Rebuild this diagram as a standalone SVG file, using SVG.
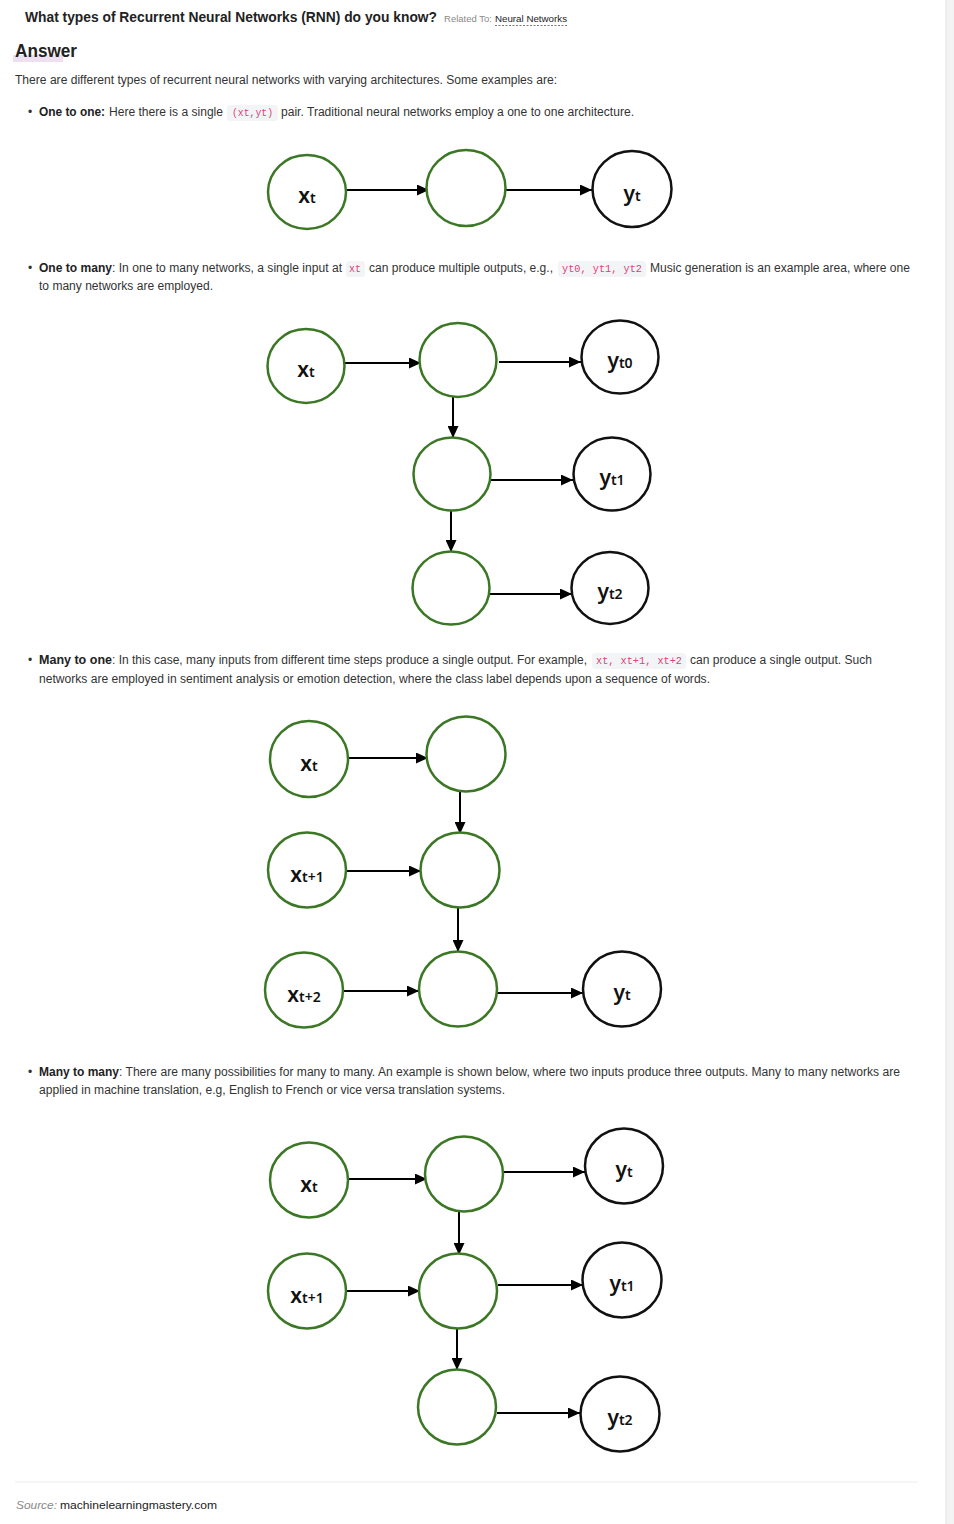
<svg xmlns="http://www.w3.org/2000/svg" width="954" height="1524" viewBox="0 0 954 1524">
<style>
text{font-family:"Liberation Sans",Arial,sans-serif;fill:#333}
.t{font-size:12px}
.b{font-size:12px;font-weight:bold;fill:#222}
.code{font-family:"Liberation Mono","DejaVu Sans Mono",monospace;font-size:10px;fill:#e0407a}
.chip{fill:#f3f4f5}
.g{fill:#fff;stroke:#3b7724;stroke-width:2.5}
.k{fill:#fff;stroke:#111;stroke-width:2.5}
.lbl{font-family:"Noto Sans","DejaVu Sans",sans-serif;font-size:21px;font-weight:600;fill:#111}
.sub{font-size:14px;font-weight:600}
.c{stroke:#000;stroke-width:2;fill:none;marker-end:url(#ah)}
</style>
<defs>
<marker id="ah" markerUnits="userSpaceOnUse" markerWidth="13" markerHeight="11" refX="12" refY="5.5" orient="auto">
<path d="M0,0 L12,5.5 L0,11 z" fill="#000"/>
</marker>
</defs>
<rect x="0" y="0" width="954" height="1524" fill="#fff"/>
<rect x="946" y="0" width="8" height="1524" fill="#f3f3f3"/>
<line x1="946" y1="0" x2="946" y2="1524" stroke="#e4e4e4" stroke-width="1"/>

<!-- header -->
<text x="25" y="22" style="font-size:14px;font-weight:bold;fill:#222" textLength="412" lengthAdjust="spacingAndGlyphs">What types of Recurrent Neural Networks (RNN) do you know?</text>
<text x="444" y="22" style="font-size:9px;fill:#8a8a8a" textLength="48" lengthAdjust="spacingAndGlyphs">Related To:</text>
<text x="495" y="22" style="font-size:9.5px;fill:#222" textLength="72" lengthAdjust="spacingAndGlyphs">Neural Networks</text>
<line x1="495" y1="25.5" x2="567" y2="25.5" stroke="#555" stroke-width="0.8" stroke-dasharray="2,1.5"/>
<rect x="13" y="55" width="50" height="7" fill="#eee0f0"/>
<text x="15" y="57" style="font-size:18px;font-weight:bold;fill:#222" textLength="62" lengthAdjust="spacingAndGlyphs">Answer</text>
<text class="t" x="15" y="84" textLength="542" lengthAdjust="spacingAndGlyphs">There are different types of recurrent neural networks with varying architectures. Some examples are:</text>

<!-- bullet 1 -->
<text class="t" x="28" y="116">•</text>
<text class="b" x="39" y="116" textLength="66" lengthAdjust="spacingAndGlyphs">One to one:</text>
<text class="t" x="109" y="116" textLength="114" lengthAdjust="spacingAndGlyphs">Here there is a single</text>
<rect class="chip" x="227" y="105" width="51" height="16" rx="3"/>
<text class="code" x="232" y="116" textLength="41" lengthAdjust="spacingAndGlyphs">(xt,yt)</text>
<text class="t" x="281" y="116" textLength="353" lengthAdjust="spacingAndGlyphs">pair. Traditional neural networks employ a one to one architecture.</text>

<!-- bullet 2 -->
<text class="t" x="28" y="272">•</text>
<text class="b" x="39" y="272" textLength="73" lengthAdjust="spacingAndGlyphs">One to many</text>
<text class="t" x="112" y="272" textLength="230" lengthAdjust="spacingAndGlyphs">: In one to many networks, a single input at</text>
<rect class="chip" x="346" y="261" width="19" height="16" rx="3"/>
<text class="code" x="349" y="272" textLength="12" lengthAdjust="spacingAndGlyphs">xt</text>
<text class="t" x="369" y="272" textLength="184" lengthAdjust="spacingAndGlyphs">can produce multiple outputs, e.g.,</text>
<rect class="chip" x="558" y="261" width="88" height="16" rx="3"/>
<text class="code" x="562" y="272" textLength="80" lengthAdjust="spacingAndGlyphs">yt0, yt1, yt2</text>
<text class="t" x="650" y="272" textLength="260" lengthAdjust="spacingAndGlyphs">Music generation is an example area, where one</text>
<text class="t" x="39" y="290" textLength="174" lengthAdjust="spacingAndGlyphs">to many networks are employed.</text>

<!-- bullet 3 -->
<text class="t" x="28" y="664">•</text>
<text class="b" x="39" y="664" textLength="73" lengthAdjust="spacingAndGlyphs">Many to one</text>
<text class="t" x="112" y="664" textLength="475" lengthAdjust="spacingAndGlyphs">: In this case, many inputs from different time steps produce a single output. For example,</text>
<rect class="chip" x="592" y="653" width="94" height="16" rx="3"/>
<text class="code" x="596" y="664" textLength="86" lengthAdjust="spacingAndGlyphs">xt, xt+1, xt+2</text>
<text class="t" x="690" y="664" textLength="182" lengthAdjust="spacingAndGlyphs">can produce a single output. Such</text>
<text class="t" x="39" y="683" textLength="671" lengthAdjust="spacingAndGlyphs">networks are employed in sentiment analysis or emotion detection, where the class label depends upon a sequence of words.</text>

<!-- bullet 4 -->
<text class="t" x="28" y="1076">•</text>
<text class="b" x="39" y="1076" textLength="80" lengthAdjust="spacingAndGlyphs">Many to many</text>
<text class="t" x="119" y="1076" textLength="781" lengthAdjust="spacingAndGlyphs">: There are many possibilities for many to many. An example is shown below, where two inputs produce three outputs. Many to many networks are</text>
<text class="t" x="39" y="1094" textLength="466" lengthAdjust="spacingAndGlyphs">applied in machine translation, e.g, English to French or vice versa translation systems.</text>

<!-- footer -->
<line x1="15" y1="1482" x2="918" y2="1482" stroke="#ececec" stroke-width="1"/>
<text x="16" y="1509" style="font-size:11px;font-style:italic;fill:#888" textLength="41" lengthAdjust="spacingAndGlyphs">Source:</text>
<text x="60" y="1509" style="font-size:11px;fill:#222" textLength="157" lengthAdjust="spacingAndGlyphs">machinelearningmastery.com</text>

<!-- connectors -->
<g id="connectors">
<!-- one to one -->
<line class="c" x1="347" y1="190" x2="429" y2="190"/>
<line class="c" x1="506" y1="190" x2="592" y2="190"/>
<!-- one to many -->
<line class="c" x1="345" y1="363" x2="421" y2="363"/>
<line class="c" x1="499" y1="362" x2="581" y2="362"/>
<line class="c" x1="453" y1="397" x2="453" y2="438"/>
<line class="c" x1="491" y1="480" x2="573" y2="480"/>
<line class="c" x1="451" y1="511" x2="451" y2="552"/>
<line class="c" x1="489" y1="594" x2="572" y2="594"/>
<!-- many to one -->
<line class="c" x1="349" y1="758" x2="428" y2="758"/>
<line class="c" x1="460" y1="792" x2="460" y2="834"/>
<line class="c" x1="346" y1="871" x2="421" y2="871"/>
<line class="c" x1="458" y1="908" x2="458" y2="952"/>
<line class="c" x1="343" y1="991" x2="419" y2="991"/>
<line class="c" x1="497" y1="993" x2="583" y2="993"/>
<!-- many to many -->
<line class="c" x1="348" y1="1179" x2="427" y2="1179"/>
<line class="c" x1="502" y1="1172" x2="585" y2="1172"/>
<line class="c" x1="459" y1="1212" x2="459" y2="1255"/>
<line class="c" x1="346" y1="1291" x2="420" y2="1291"/>
<line class="c" x1="498" y1="1285" x2="583" y2="1285"/>
<line class="c" x1="457" y1="1329" x2="457" y2="1370"/>
<line class="c" x1="497" y1="1413" x2="580" y2="1413"/>
</g>

<!-- one to one nodes -->
<g id="o2o-x"><ellipse class="g" cx="307" cy="192" rx="39" ry="37"/><text class="lbl" x="307" y="203" text-anchor="middle">x<tspan class="sub">t</tspan></text></g>
<g id="o2o-h"><ellipse class="g" cx="466" cy="188" rx="39.5" ry="38"/></g>
<g id="o2o-y"><ellipse class="k" cx="632" cy="189" rx="39.5" ry="38"/><text class="lbl" x="632" y="201" text-anchor="middle">y<tspan class="sub">t</tspan></text></g>

<!-- one to many nodes -->
<g id="o2m-x"><ellipse class="g" cx="306" cy="366" rx="38.5" ry="37"/><text class="lbl" x="306" y="377" text-anchor="middle">x<tspan class="sub">t</tspan></text></g>
<g id="o2m-h1"><ellipse class="g" cx="458" cy="360" rx="38.5" ry="37"/></g>
<g id="o2m-y0"><ellipse class="k" cx="620" cy="357" rx="38.5" ry="36.5"/><text class="lbl" x="620" y="368" text-anchor="middle">y<tspan class="sub">t0</tspan></text></g>
<g id="o2m-h2"><ellipse class="g" cx="452" cy="474" rx="38.5" ry="36.5"/></g>
<g id="o2m-y1"><ellipse class="k" cx="612" cy="474" rx="38.5" ry="36.5"/><text class="lbl" x="612" y="485" text-anchor="middle">y<tspan class="sub">t1</tspan></text></g>
<g id="o2m-h3"><ellipse class="g" cx="451" cy="588" rx="38.5" ry="36.5"/></g>
<g id="o2m-y2"><ellipse class="k" cx="610" cy="588" rx="38.5" ry="36"/><text class="lbl" x="610" y="599" text-anchor="middle">y<tspan class="sub">t2</tspan></text></g>

<!-- many to one nodes -->
<g id="m2o-x0"><ellipse class="g" cx="309" cy="759" rx="39" ry="38"/><text class="lbl" x="309" y="771" text-anchor="middle">x<tspan class="sub">t</tspan></text></g>
<g id="m2o-h1"><ellipse class="g" cx="466" cy="754" rx="39.5" ry="37.5"/></g>
<g id="m2o-x1"><ellipse class="g" cx="307" cy="870" rx="39" ry="37.5"/><text class="lbl" x="307" y="882" text-anchor="middle">x<tspan class="sub">t+1</tspan></text></g>
<g id="m2o-h2"><ellipse class="g" cx="460" cy="870" rx="39.5" ry="37.5"/></g>
<g id="m2o-x2"><ellipse class="g" cx="304" cy="990" rx="39" ry="37.5"/><text class="lbl" x="304" y="1002" text-anchor="middle">x<tspan class="sub">t+2</tspan></text></g>
<g id="m2o-h3"><ellipse class="g" cx="458" cy="989" rx="39" ry="37.5"/></g>
<g id="m2o-y"><ellipse class="k" cx="622" cy="989" rx="39" ry="37.5"/><text class="lbl" x="622" y="1000" text-anchor="middle">y<tspan class="sub">t</tspan></text></g>

<!-- many to many nodes -->
<g id="m2m-x0"><ellipse class="g" cx="309" cy="1180" rx="39" ry="37.5"/><text class="lbl" x="309" y="1192" text-anchor="middle">x<tspan class="sub">t</tspan></text></g>
<g id="m2m-h1"><ellipse class="g" cx="464" cy="1174" rx="39" ry="37.5"/></g>
<g id="m2m-y0"><ellipse class="k" cx="624" cy="1166" rx="39" ry="37.5"/><text class="lbl" x="624" y="1177" text-anchor="middle">y<tspan class="sub">t</tspan></text></g>
<g id="m2m-x1"><ellipse class="g" cx="307" cy="1291" rx="39" ry="37.5"/><text class="lbl" x="307" y="1303" text-anchor="middle">x<tspan class="sub">t+1</tspan></text></g>
<g id="m2m-h2"><ellipse class="g" cx="458" cy="1291" rx="39" ry="37.5"/></g>
<g id="m2m-y1"><ellipse class="k" cx="622" cy="1280" rx="39.5" ry="37.5"/><text class="lbl" x="622" y="1291" text-anchor="middle">y<tspan class="sub">t1</tspan></text></g>
<g id="m2m-h3"><ellipse class="g" cx="457" cy="1407" rx="39" ry="37.5"/></g>
<g id="m2m-y2"><ellipse class="k" cx="620" cy="1414" rx="39.5" ry="37.5"/><text class="lbl" x="620" y="1425" text-anchor="middle">y<tspan class="sub">t2</tspan></text></g>
</svg>
